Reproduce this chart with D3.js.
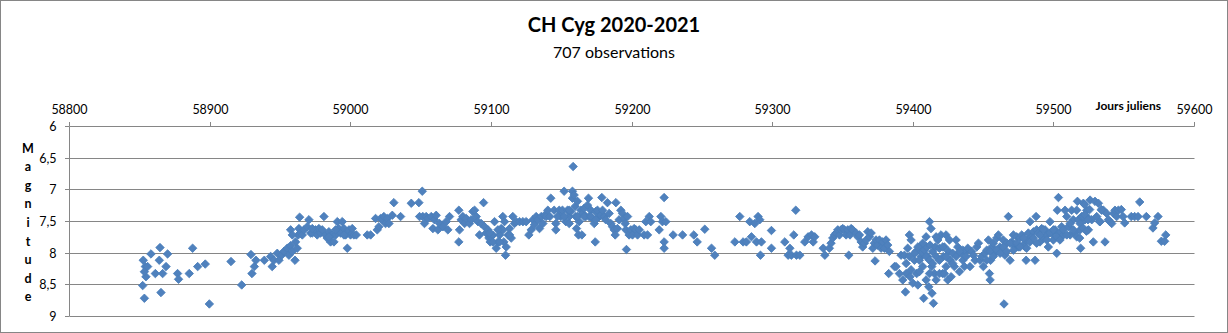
<!DOCTYPE html>
<html>
<head>
<meta charset="utf-8">
<script src="https://cdn.jsdelivr.net/npm/d3@7"></script>
<style>
  body { margin: 0; background: #ffffff; }
  svg text { font-family: Lato, "Liberation Sans", sans-serif; fill: #000; }
</style>
</head>
<body>
<svg id="chart" width="1228" height="333"></svg>
<script>
// Observations of CH Cyg: Julian day (minus 2400000) and visual magnitude
const julianDays = [
  58852.8, 58858.3, 58864.7, 58870.1, 58887.9, 58864.2, 58854.3, 58852.4, 58853.6, 58854.7,
  58853.6, 58855.9, 58861.4, 58866.6, 58869.0, 58865.4, 58877.2, 58877.9, 58885.5, 58891.5,
  58896.9, 58899.8, 58915.2, 58922.8, 58929.4, 58930.1, 58931.8, 58932.9, 58938.9,
  58943.4, 58944.5, 58945.7, 58948.1, 58949.3, 58951.2, 58952.8, 58955.2, 58956.4, 58957.6,
  58958.8, 58960.7, 58961.1, 58962.3, 58963.0, 58957.6, 58958.8, 58963.5, 58964.7, 58965.9,
  58967.1, 58969.4, 58970.6, 58964.0, 58971.8, 58973.0, 58975.3, 58976.5, 58977.7, 58978.9,
  58980.1, 58981.3, 58982.5, 58983.6, 58984.8, 58986.0, 58987.2, 58988.4, 58989.6, 58990.8,
  58991.9, 58993.1, 58994.3, 58995.5, 58996.7, 58997.9, 58999.1, 59000.2, 59001.4, 59002.6,
  59004.3, 59012.1, 59014.5, 59018.0, 59019.2, 59020.4, 59021.6, 59022.8, 59023.9, 59025.1,
  59026.3, 59027.5, 59029.9, 59031.0, 59035.8,
  58973.0, 58984.8, 58989.6, 58995.5,
  59043.4, 59048.8, 59051.2, 59049.3, 59051.6, 59052.8, 59054.0, 59055.2, 59057.6, 59058.8,
  59059.9, 59061.1, 59062.3, 59063.5, 59065.9, 59068.2, 59069.4, 59070.6, 59077.2, 59077.7,
  59077.2, 59078.9, 59080.1, 59081.3, 59082.5, 59084.8, 59086.0, 59087.2, 59088.4, 59089.6,
  59090.8, 59091.9, 59093.1, 59094.8, 59095.5, 59096.7, 59097.9, 59098.6, 59099.5, 59100.2,
  59101.4, 59102.6, 59103.8, 59105.0, 59106.2, 59107.3, 59108.5, 59109.2, 59109.7, 59110.4,
  59110.9, 59112.1, 59113.3, 59114.5, 59115.6, 59116.8, 59118.0, 59120.4, 59122.8, 59125.1,
  59127.0, 59128.7, 59129.9, 59131.0, 59132.2, 59133.4, 59134.6, 59135.8, 59137.0, 59138.2,
  59139.3, 59140.5,
  59099.1, 59101.4, 59106.2, 59108.5, 59113.3, 59105.0,
  59142.6, 59141.9, 59145.0, 59146.2, 59146.2, 59148.6, 59149.8, 59150.9, 59152.1, 59153.3,
  59154.5, 59155.7, 59156.9, 59158.0, 59158.5, 59158.0, 59159.2, 59159.9, 59160.4, 59160.9,
  59161.6, 59162.3, 59162.8, 59164.0, 59164.7, 59165.2, 59166.3, 59167.5, 59168.7, 59169.4,
  59169.9, 59171.1, 59172.3, 59173.5, 59174.2, 59174.6, 59175.8, 59177.0, 59178.2, 59178.9,
  59179.4, 59180.6, 59181.7, 59182.9, 59184.1, 59185.3, 59186.5, 59187.7, 59188.4, 59188.9,
  59190.0, 59191.2, 59192.4, 59193.6, 59194.8, 59195.5, 59196.0, 59196.4, 59197.2, 59198.3,
  59199.5, 59200.7, 59201.9, 59203.1, 59204.3, 59205.5, 59209.0, 59210.2, 59211.4, 59212.6,
  59213.7, 59219.7, 59220.9, 59222.0, 59223.2, 59223.2, 59223.2, 59224.4, 59229.6, 59236.3,
  59147.4, 59152.1, 59155.7, 59161.6, 59166.3, 59171.1, 59174.6, 59155.7,
  59244.3, 59246.7, 59252.1, 59256.9, 59259.2, 59273.5, 59277.0, 59279.4, 59281.7, 59284.1,
  59285.3, 59287.7, 59288.9, 59290.0, 59291.2, 59291.7, 59292.4, 59299.5, 59299.5, 59309.0,
  59311.4, 59312.6, 59313.7, 59315.4, 59316.8, 59317.3, 59319.7, 59323.2, 59325.6, 59328.0,
  59329.2, 59330.3, 59336.3, 59337.5,
  59340.7, 59341.9, 59343.1, 59344.3, 59345.5, 59346.7, 59347.9, 59349.0, 59350.2, 59351.4,
  59352.6, 59353.8, 59354.5, 59355.4, 59356.2, 59357.3, 59359.7, 59360.9, 59362.1, 59363.3,
  59364.4, 59365.6, 59366.8, 59368.0, 59369.2, 59370.4, 59371.6, 59372.7, 59373.2, 59373.9,
  59375.1, 59376.3, 59377.5, 59378.7, 59379.9, 59381.0, 59382.2, 59382.9, 59383.4, 59387.0,
  59388.1, 59391.7, 59392.9, 59394.1, 59394.8, 59395.3, 59396.4, 59397.6, 59398.1, 59398.8,
  59400.0, 59401.2, 59402.4, 59402.8, 59403.6, 59404.7, 59405.2, 59405.9, 59407.1, 59407.8,
  59408.3, 59409.5, 59410.0, 59410.7, 59411.4, 59411.9, 59412.3, 59413.0, 59413.5, 59413.7,
  59414.2, 59414.7, 59415.4, 59416.1, 59416.6, 59417.8, 59419.0, 59420.1, 59421.3, 59421.8,
  59422.5, 59423.7, 59424.9, 59425.6, 59426.5, 59427.3, 59428.4, 59429.6, 59430.8, 59432.0,
  59433.2, 59434.4, 59435.6, 59436.7, 59437.9, 59439.1,
  59404.7, 59407.1, 59409.5, 59411.9, 59411.9, 59414.2, 59416.6, 59419.0, 59419.0, 59421.3,
  59423.7, 59423.7, 59426.1, 59428.4, 59430.8, 59433.2, 59435.6, 59437.9, 59409.5, 59407.1,
  59403.6, 59401.2, 59397.6, 59395.3, 59390.5, 59398.8, 59416.6, 59422.5,
  59440.7, 59441.9, 59443.1, 59444.3, 59445.5, 59446.7, 59447.9, 59449.0, 59450.2, 59451.4,
  59452.6, 59453.8, 59454.5, 59455.0, 59455.4, 59456.2, 59457.3, 59458.5, 59459.7, 59460.9,
  59462.1, 59463.3, 59464.4, 59464.9, 59465.6, 59466.8, 59468.0, 59469.2, 59470.4, 59471.6,
  59472.7, 59473.9, 59475.1, 59476.3, 59477.5, 59478.7, 59479.9, 59480.6, 59481.0, 59482.2,
  59483.4, 59484.6, 59485.8, 59487.0, 59487.7, 59488.1, 59489.3, 59490.5, 59491.7, 59492.9,
  59494.1, 59495.3, 59496.4, 59497.6, 59498.8, 59500.0, 59501.2, 59502.4, 59502.8, 59503.6,
  59504.3, 59504.7, 59505.9, 59507.1, 59508.3, 59509.5, 59510.7, 59511.9, 59513.0, 59514.2,
  59515.4, 59516.6, 59517.1, 59517.8, 59519.0, 59519.4, 59520.1, 59521.3, 59522.5, 59523.7,
  59524.9, 59526.1, 59527.3, 59528.4, 59529.6, 59530.8, 59532.0, 59533.2, 59534.4, 59535.6,
  59536.7, 59537.9, 59539.1, 59540.3, 59541.5, 59542.7, 59543.8, 59545.0, 59546.2,
  59452.6, 59455.0, 59457.3, 59459.7, 59462.1, 59464.4, 59466.8, 59469.2, 59471.6, 59473.9,
  59476.3, 59478.7, 59481.0, 59483.4, 59485.8, 59488.1, 59490.5, 59492.9, 59495.3, 59497.6,
  59500.0, 59502.4, 59504.7, 59507.1, 59509.5, 59511.9, 59514.2, 59516.6, 59519.0, 59521.3,
  59523.7,
  59522.3, 59525.8, 59522.3, 59524.6, 59521.1, 59523.5, 59532.9, 59534.1, 59518.7,
  59548.3, 59549.5, 59550.7, 59555.4, 59557.8, 59560.2, 59561.4, 59566.1, 59570.8, 59572.0,
  59574.4, 59576.8, 59579.1, 59579.9
];
const magnitudes = [
  8.12, 8.02, 7.92, 8.02, 7.93, 8.12, 8.22, 8.52, 8.72, 8.38,
  8.30, 8.22, 8.33, 8.33, 8.22, 8.63, 8.33, 8.42, 8.33, 8.22,
  8.18, 8.81, 8.14, 8.51, 8.03, 8.33, 8.22, 8.12, 8.12,
  8.06, 8.22, 8.12, 8.01, 8.12, 8.04, 7.98, 7.93, 8.04, 7.89,
  7.98, 8.12, 7.83, 7.93, 7.72, 7.64, 7.72, 7.62, 7.69, 7.72,
  7.64, 7.59, 7.48, 7.44, 7.69, 7.69, 7.64, 7.72, 7.62, 7.69,
  7.64, 7.43, 7.72, 7.77, 7.67, 7.83, 7.72, 7.83, 7.72, 7.51,
  7.62, 7.69, 7.51, 7.62, 7.72, 7.93, 7.64, 7.72, 7.62, 7.72,
  7.72, 7.72, 7.72, 7.46, 7.64, 7.59, 7.46, 7.48, 7.43, 7.54,
  7.46, 7.54, 7.41, 7.21, 7.43,
  7.62, 7.75, 7.64, 7.72,
  7.22, 7.21, 7.03, 7.43, 7.43, 7.54, 7.43, 7.46, 7.43, 7.62,
  7.48, 7.41, 7.64, 7.54, 7.59, 7.51, 7.64, 7.43, 7.33, 7.64,
  7.83, 7.48, 7.43, 7.54, 7.46, 7.54, 7.48, 7.35, 7.33, 7.43,
  7.51, 7.72, 7.54, 7.21, 7.59, 7.69, 7.64, 7.77, 7.83, 7.75,
  7.72, 7.51, 7.93, 7.83, 7.72, 7.62, 7.43, 7.83, 7.51, 8.04,
  7.91, 7.72, 7.62, 7.77, 7.43, 7.54, 7.51, 7.51, 7.51, 7.51,
  7.72, 7.64, 7.48, 7.56, 7.43, 7.48, 7.62, 7.43, 7.54, 7.41,
  7.43, 7.33,
  7.69, 7.83, 7.83, 7.64, 7.72, 7.64,
  7.14, 7.43, 7.33, 7.54, 7.64, 7.33, 7.43, 7.33, 7.03, 7.51,
  7.33, 7.43, 7.35, 7.03, 6.64, 7.14, 7.09, 7.27, 7.43, 7.62,
  7.19, 7.72, 7.51, 7.33, 7.72, 7.38, 7.30, 7.43, 7.25, 7.14,
  7.43, 7.33, 7.46, 7.54, 7.83, 7.35, 7.33, 7.43, 7.41, 7.13,
  7.33, 7.43, 7.48, 7.21, 7.38, 7.54, 7.59, 7.64, 7.72, 7.21,
  7.62, 7.48, 7.33, 7.38, 7.46, 7.54, 7.64, 7.95, 7.43, 7.72,
  7.64, 7.72, 7.62, 7.64, 7.72, 7.64, 7.72, 7.51, 7.72, 7.43,
  7.51, 7.64, 7.43, 7.51, 7.13, 7.83, 7.93, 7.51, 7.72, 7.72,
  7.43, 7.43, 7.33, 7.43, 7.43, 7.43, 7.48, 7.54,
  7.72, 7.83, 7.63, 7.93, 8.04, 7.83, 7.43, 7.83, 7.83, 7.51,
  7.75, 7.54, 7.83, 7.43, 7.48, 8.04, 7.83, 7.65, 7.93, 7.83,
  8.04, 7.93, 8.04, 7.72, 7.33, 8.04, 8.04, 7.83, 7.75, 7.72,
  7.83, 7.75, 7.93, 8.04,
  7.93, 7.85, 7.77, 7.72, 7.69, 7.64, 7.72, 7.64, 7.62, 7.64,
  7.72, 7.64, 8.04, 7.72, 7.62, 7.64, 7.69, 7.75, 7.72, 7.83,
  7.91, 7.85, 7.80, 7.67, 7.75, 7.69, 7.93, 7.85, 8.13, 7.80,
  7.88, 7.80, 7.93, 7.83, 7.93, 7.80, 7.88, 8.33, 7.98, 8.22,
  8.22, 8.04, 8.43, 8.04, 8.62, 8.33, 7.93, 7.72, 8.38, 7.80,
  8.48, 8.12, 7.98, 8.33, 8.51, 8.30, 7.91, 8.06, 8.01, 8.72,
  7.96, 8.43, 7.91, 8.06, 8.54, 7.51, 7.88, 7.62, 8.22, 8.64,
  7.98, 8.80, 8.33, 7.91, 8.06, 7.80, 7.93, 7.72, 8.33, 8.06,
  7.91, 7.72, 8.43, 7.98, 8.12, 8.38, 8.01, 8.22, 7.80, 7.91,
  8.30, 8.01, 7.96, 8.22, 7.98, 7.93,
  8.12, 8.22, 8.06, 8.12, 8.33, 8.17, 7.75, 8.12, 8.33, 7.91,
  8.06, 8.22, 7.80, 8.17, 8.06, 7.98, 8.12, 8.06, 7.75, 7.85,
  7.91, 8.01, 8.06, 8.17, 8.33, 8.27, 8.43, 8.33,
  8.22, 7.98, 8.04, 8.12, 7.91, 7.85, 8.12, 8.06, 8.22, 8.01,
  7.96, 7.80, 8.33, 8.43, 8.12, 7.91, 7.85, 8.01, 7.77, 7.72,
  7.91, 7.96, 7.80, 8.81, 8.04, 7.85, 7.43, 8.12, 7.83, 7.72,
  7.91, 7.75, 7.91, 7.77, 7.72, 7.88, 7.91, 8.12, 7.80, 7.69,
  7.51, 7.75, 7.67, 8.12, 7.43, 7.64, 7.69, 7.83, 7.62, 7.77,
  7.64, 7.72, 7.91, 7.51, 7.69, 7.80, 7.64, 8.01, 7.33, 7.13,
  7.77, 7.69, 7.59, 7.72, 7.33, 7.43, 7.59, 7.72, 7.33, 7.48,
  7.69, 7.33, 7.19, 7.48, 7.64, 7.93, 7.43, 7.22, 7.48, 7.43,
  7.64, 7.17, 7.48, 7.83, 7.19, 7.43, 7.22, 7.51, 7.33, 7.33,
  7.83, 7.38, 7.48, 7.51, 7.54, 7.38, 7.33, 7.43, 7.33,
  8.12, 7.98, 8.06, 7.96, 8.01, 7.91, 7.98, 7.85, 7.96, 7.85,
  7.91, 7.77, 7.93, 7.83, 7.77, 7.85, 7.72, 7.64, 7.80, 7.69,
  7.64, 7.75, 7.80, 7.64, 7.72, 7.54, 7.64, 7.75, 7.54, 7.43,
  7.33,
  7.24, 7.32, 7.40, 7.48, 7.61, 7.66, 7.51, 7.32, 7.77,
  7.32, 7.43, 7.53, 7.43, 7.43, 7.43, 7.20, 7.43, 7.61, 7.53,
  7.43, 7.82, 7.82, 7.72
];

const xTicks = [58800, 58900, 59000, 59100, 59200, 59300, 59400, 59500, 59600];
const yTicks = [6, 6.5, 7, 7.5, 8, 8.5, 9];
const yTickLabels = ["6", "6,5", "7", "7,5", "8", "8,5", "9"];

const chartTitle = "CH Cyg 2020-2021";
const chartSubtitle = "707 observations";
const xAxisTitle = "Jours juliens";
const yAxisTitle = "Magnitude";

const W = 1228, H = 333;
const lineColor = "#868686";

const svg = d3.select("#chart");

// Scales: Julian days along the top, magnitude reversed (bright at top)
const x = d3.scaleLinear().domain([58800, 59600]).range([69, 1194]);
const y = d3.scaleLinear().domain([6, 9]).range([126, 316]);
const xr = x.copy().interpolate(d3.interpolateRound);
const yr = y.copy().interpolate(d3.interpolateRound);

// Outer chart frame
svg.append("rect")
  .attr("x", 0.5).attr("y", 0.5)
  .attr("width", W - 1).attr("height", H - 1)
  .attr("fill", "#fff")
  .attr("stroke", lineColor);

// Horizontal gridlines
svg.append("g")
  .selectAll("line")
  .data(yTicks)
  .join("line")
  .attr("x1", 69.5).attr("x2", xr(59600) + 0.5)
  .attr("y1", d => yr(d) + 0.5).attr("y2", d => yr(d) + 0.5)
  .attr("stroke", lineColor)
  .attr("stroke-width", 1);

// Top axis (Julian days)
const gx = svg.append("g")
  .attr("transform", "translate(0,126)")
  .call(d3.axisTop(xr).tickValues(xTicks).tickSize(4).tickSizeOuter(0)
    .tickPadding(8.5).tickFormat(d3.format("d")));

// Left axis (magnitude)
const gy = svg.append("g")
  .attr("transform", "translate(69,0)")
  .call(d3.axisLeft(yr).tickValues(yTicks).tickSize(4).tickSizeOuter(0)
    .tickPadding(8.5).tickFormat((d, i) => yTickLabels[i]));

[gx, gy].forEach(g => {
  g.select(".domain").attr("stroke", lineColor);
  g.selectAll(".tick line").attr("stroke", lineColor);
  g.selectAll(".tick text")
    .attr("fill", "#000")
    .style("font-family", "Lato, 'Liberation Sans', sans-serif")
    .style("font-size", "12.5px");
});

// Observation markers (diamonds)
const diamond = d3.symbol().type(d3.symbolSquare).size(36);
svg.append("g")
  .selectAll("path")
  .data(d3.zip(julianDays, magnitudes))
  .join("path")
  .attr("d", diamond)
  .attr("transform", d => `translate(${x(d[0])},${y(d[1])}) rotate(45)`)
  .attr("fill", "#4f81bd")
  .attr("stroke", "#4a7ebb")
  .attr("stroke-width", 0.8);

// Titles
svg.append("text")
  .attr("x", 614).attr("y", 32)
  .attr("text-anchor", "middle")
  .style("font-size", "20px")
  .style("font-weight", "bold")
  .text(chartTitle);

svg.append("text")
  .attr("x", 614).attr("y", 57.5)
  .attr("text-anchor", "middle")
  .style("font-size", "16px")
  .text(chartSubtitle);

svg.append("text")
  .attr("x", 1161).attr("y", 110)
  .attr("text-anchor", "end")
  .style("font-size", "12px")
  .style("font-weight", "bold")
  .text(xAxisTitle);

// Vertical axis title, one letter per line
svg.append("g")
  .selectAll("text")
  .data(Array.from(yAxisTitle))
  .join("text")
  .attr("x", 28)
  .attr("y", (d, i) => 152.5 + i * 18.6)
  .attr("text-anchor", "middle")
  .style("font-size", "12.5px")
  .style("font-weight", "bold")
  .text(d => d);
</script>
</body>
</html>
